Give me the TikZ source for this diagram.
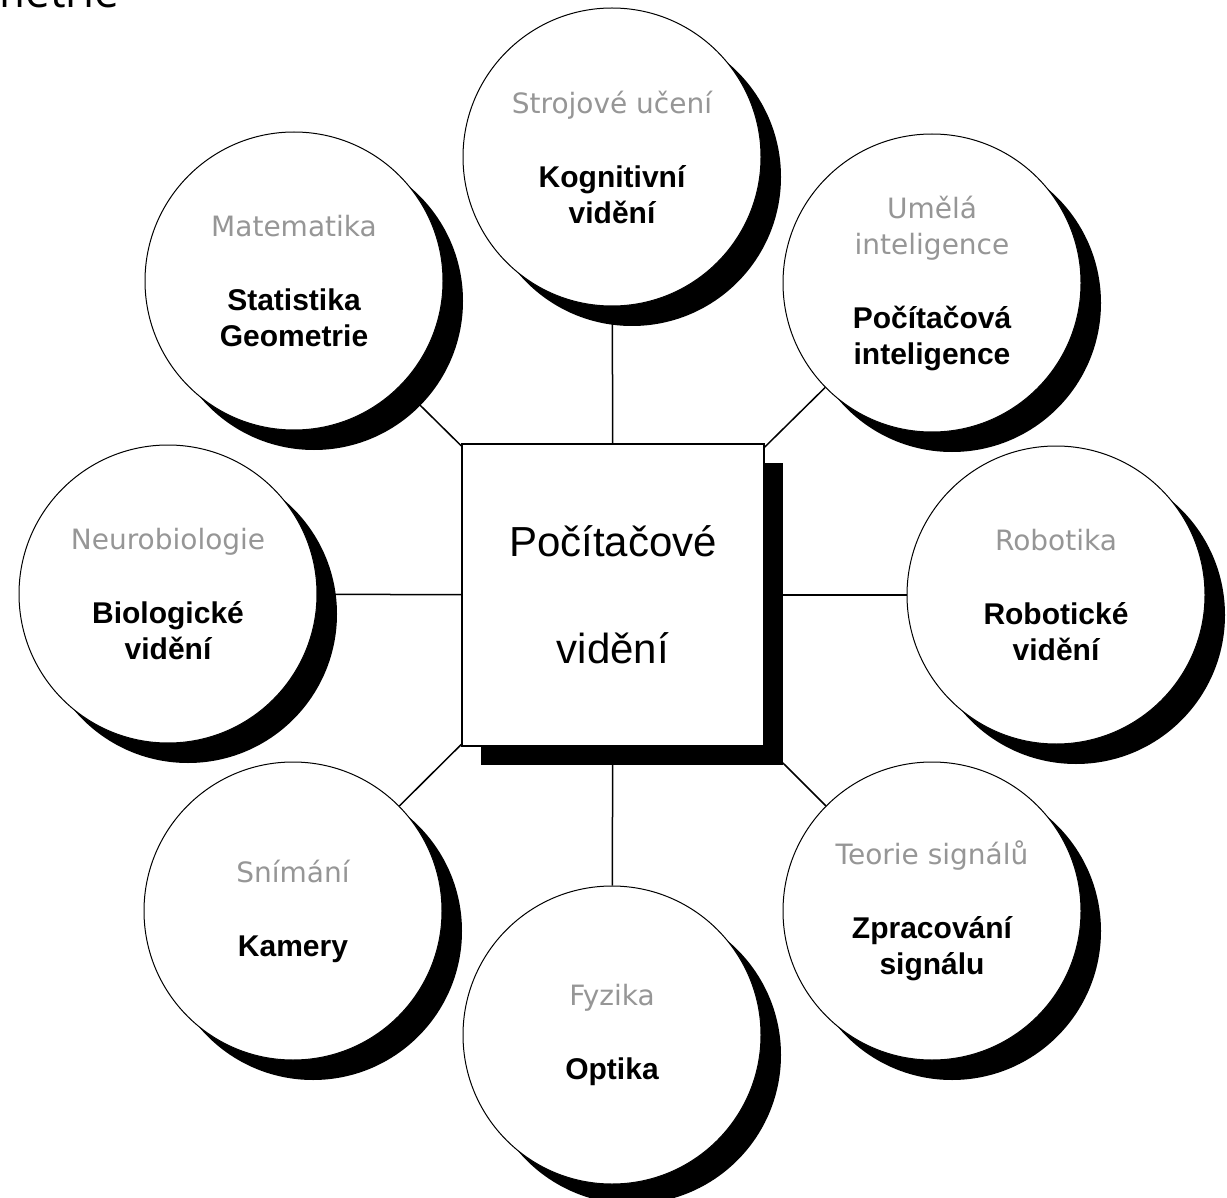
\documentclass[tikz,border=0pt]{standalone}
\usepackage{fontspec}
\setmainfont{Liberation Sans}
\newfontfamily\greyfont{DejaVu Sans}
\newfontfamily\captfont{Open Sans}
\usetikzlibrary{shadows,backgrounds}
\definecolor{fieldgray}{RGB}{150,150,150}
\newcommand{\fieldname}[1]{{\greyfont\fontsize{28}{36}\selectfont\color{fieldgray}#1}}
\newcommand{\topicname}[1]{{\fontsize{30}{36}\selectfont\bfseries #1}}

\begin{document}
\begin{tikzpicture}[x=1pt,y=-1pt,
    topic/.style={circle,draw,line width=1pt,fill=white,minimum size=298pt,inner sep=0pt,
      align=center,font=\fontsize{30}{36}\selectfont,
      drop shadow={shadow xshift=20pt,shadow yshift=-20pt,fill=black,opacity=1}},
    core/.style={rectangle,draw,line width=1.5pt,fill=white,minimum size=302pt,inner sep=0pt,
      align=center,font=\fontsize{42}{50}\selectfont,
      drop shadow={shadow xshift=19pt,shadow yshift=-19pt,fill=black,opacity=1}},
    link/.style={line width=1.5pt}]
			%%%%% START %%%%%
			\useasboundingbox (0,0) rectangle (1227,1198);
			\clip (0,0) rectangle (1227,1198);
			
			\node[anchor=base east,font=\captfont\fontsize{44}{50}\selectfont] (capt) at (123,8) {Geometrie};
			
			\node[core] (cv) at (613,595) {Počítačové\\[57pt]vidění};
			
			\node[topic] (kog) at (612,157) {\fieldname{Strojové učení}\\[38pt]\topicname{Kognitivní}\\\topicname{vidění}};
			\node[topic] (mat) at (294,281) {\fieldname{Matematika}\\[38pt]\topicname{Statistika}\\\topicname{Geometrie}};
			\node[topic] (umi) at (932,283) {\fieldname{Umělá}\\\fieldname{inteligence}\\[38pt]\topicname{Počítačová}\\\topicname{inteligence}};
			\node[topic] (neu) at (168,594) {\fieldname{Neurobiologie}\\[38pt]\topicname{Biologické}\\\topicname{vidění}};
			\node[topic] (rob) at (1056,595) {\fieldname{Robotika}\\[38pt]\topicname{Robotické}\\\topicname{vidění}};
			\node[topic] (sni) at (293,911) {\fieldname{Snímání}\\[38pt]\topicname{Kamery}};
			\node[topic] (teo) at (932,911) {\fieldname{Teorie signálů}\\[38pt]\topicname{Zpracování}\\\topicname{signálu}};
			\node[topic] (fyz) at (612,1035) {\fieldname{Fyzika}\\[38pt]\topicname{Optika}};
			
			\begin{scope}[on background layer]
				\foreach \t in {kog,mat,umi,neu,rob,sni,teo,fyz}
					\draw[link] (cv) -- (\t);
			\end{scope}
			%%%%% END %%%%%
\end{tikzpicture}
\end{document}
